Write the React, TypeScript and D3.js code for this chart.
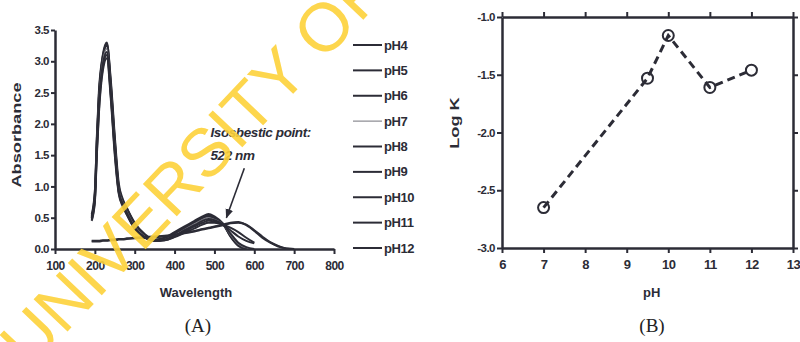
import React, { useEffect, useRef } from "react";
import * as d3 from "d3";

// Panel A: UV-vis spectra at different pH
const wavelengths = [192, 200, 205, 210, 220, 230, 240, 250, 260, 270, 280, 300, 325, 350, 375, 400, 425, 450, 470, 485, 500, 522, 540, 560, 580, 600, 620, 640, 660, 680, 700];
const pH4 = [0.52, 0.9, 1.8, 2.5, 3.1, 3.3, 2.65, 1.75, 1.0, 0.78, 0.65, 0.42, 0.24, 0.15, 0.18, 0.27, 0.36, 0.45, 0.52, 0.56, 0.52, 0.4, 0.2, 0.05, 0, null, null, null, null, null, null];
const pH5 = [0.55, 0.92, 1.75, 2.45, 3.08, 3.28, 2.7, 1.8, 1.05, 0.8, 0.66, 0.4, 0.22, 0.14, 0.17, 0.25, 0.34, 0.43, 0.5, 0.54, 0.5, 0.4, 0.21, 0.06, 0.01, null, null, null, null, null, null];
const pH6 = [0.5, 0.85, 1.7, 2.4, 3.05, 3.25, 2.6, 1.7, 0.98, 0.76, 0.62, 0.38, 0.21, 0.14, 0.16, 0.24, 0.33, 0.42, 0.49, 0.52, 0.49, 0.39, 0.22, 0.07, 0.01, null, null, null, null, null, null];
const pH7 = [0.48, 0.82, 1.65, 2.35, 3.0, 3.2, 2.55, 1.65, 0.95, 0.74, 0.6, 0.36, 0.2, 0.13, 0.15, 0.22, 0.31, 0.4, 0.47, 0.5, 0.47, 0.39, 0.23, 0.08, 0.02, null, null, null, null, null, null];
const pH8 = [0.5, 0.8, 1.6, 2.3, 2.95, 3.15, 2.5, 1.6, 0.92, 0.72, 0.58, 0.34, 0.19, 0.13, 0.15, 0.21, 0.3, 0.38, 0.45, 0.48, 0.46, 0.39, 0.25, 0.1, 0.03, 0, null, null, null, null, null];
const pH9 = [0.47, 0.78, 1.55, 2.2, 2.9, 3.1, 2.45, 1.55, 0.9, 0.7, 0.56, 0.33, 0.18, 0.13, 0.14, 0.2, 0.28, 0.36, 0.42, 0.45, 0.44, 0.39, 0.3, 0.2, 0.13, 0.09, null, null, null, null, null];
const pH10 = [0.45, 0.75, 1.5, 2.15, 2.85, 3.05, 2.4, 1.5, 0.88, 0.68, 0.55, 0.32, 0.18, 0.13, 0.14, 0.19, 0.26, 0.33, 0.39, 0.42, 0.42, 0.39, 0.34, 0.27, 0.18, 0.1, null, null, null, null, null];
const pH11 = [0.13, 0.13, 0.13, 0.13, 0.14, 0.14, 0.15, 0.15, 0.16, 0.16, 0.17, 0.18, 0.19, 0.2, 0.21, 0.23, 0.26, 0.29, 0.32, 0.34, 0.36, 0.39, 0.42, 0.43, 0.38, 0.29, 0.18, 0.1, 0.04, 0.01, 0];
const pH12 = [0.12, 0.12, 0.12, 0.12, 0.13, 0.13, 0.14, 0.14, 0.15, 0.15, 0.16, 0.17, 0.18, 0.19, 0.2, 0.22, 0.25, 0.28, 0.31, 0.33, 0.35, 0.38, 0.41, 0.42, 0.39, 0.3, 0.2, 0.11, 0.05, 0.01, 0];
const seriesNames = ["pH4", "pH5", "pH6", "pH7", "pH8", "pH9", "pH10", "pH11", "pH12"];
const seriesValues = [pH4, pH5, pH6, pH7, pH8, pH9, pH10, pH11, pH12];
const absTicks = [0, 0.5, 1, 1.5, 2, 2.5, 3, 3.5];
const wlTicks = [100, 200, 300, 400, 500, 600, 700, 800];

// Panel B: log K vs pH
const phValues = [7, 9.5, 10, 11, 12];
const logK = [-2.65, -1.53, -1.16, -1.61, -1.46];
const phTicks = [6, 7, 8, 9, 10, 11, 12, 13];
const logKTicks = [-3, -2.5, -2, -1.5, -1];

const ink = "#2c2c36";
const font = "'Liberation Sans', Arial, sans-serif";

const App = () => {
  const svgRef = useRef(null);
  const width = 800;
  const height = 342;

  useEffect(() => {
    const svg = d3.select(svgRef.current);
    svg.selectAll("*").remove();

    // ---------- Panel A ----------
    const xA = d3.scaleLinear().domain([100, 800]).range([55, 334]);
    const yA = d3.scaleLinear().domain([0, 3.5]).range([249, 30]);

    const styleAxis = (g, size) => {
      g.selectAll("path").attr("stroke", ink).attr("stroke-width", 2.5);
      g.selectAll(".tick line").attr("stroke", ink).attr("stroke-width", 2);
      g.selectAll("text")
        .attr("fill", ink)
        .style("font-family", font)
        .style("font-weight", "bold")
        .style("font-size", size + "px")
        .style("letter-spacing", "-0.5px");
    };

    const lineA = d3
      .line()
      .defined((d) => d[1] !== null)
      .x((d) => xA(d[0]))
      .y((d) => yA(d[1]))
      .curve(d3.curveMonotoneX);

    seriesValues.forEach((vals, i) => {
      svg
        .append("path")
        .datum(wavelengths.map((w, j) => [w, vals[j]]))
        .attr("fill", "none")
        .attr("stroke", seriesNames[i] === "pH7" ? "#7a7a82" : ink)
        .attr("stroke-width", seriesNames[i] === "pH7" ? 1.4 : 2)
        .attr("d", lineA);
    });

    svg
      .append("g")
      .attr("transform", `translate(0,${yA(0)})`)
      .call(
        d3.axisBottom(xA).tickValues(wlTicks).tickSize(5).tickPadding(7).tickSizeOuter(0)
          .tickFormat(d3.format("d")),
      )
      .call((g) => styleAxis(g, 12));

    svg
      .append("g")
      .attr("transform", `translate(${xA(100)},0)`)
      .call(
        d3.axisLeft(yA).tickValues(absTicks).tickSize(4).tickPadding(2).tickSizeOuter(0)
          .tickFormat((d) => d.toFixed(1)),
      )
      .call((g) => styleAxis(g, 11.5));

    svg
      .append("text")
      .attr("x", 196)
      .attr("y", 297)
      .attr("text-anchor", "middle")
      .attr("fill", ink)
      .style("font-family", font)
      .style("font-weight", "bold")
      .style("font-size", "13px")
      .text("Wavelength");

    svg
      .append("text")
      .attr("transform", `translate(21,135) rotate(-90) scale(1.4,1)`)
      .attr("text-anchor", "middle")
      .attr("fill", ink)
      .style("font-family", font)
      .style("font-weight", "bold")
      .style("font-size", "13px")
      .text("Absorbance");

    // isosbestic annotation
    svg
      .append("defs")
      .append("marker")
      .attr("id", "arrow")
      .attr("viewBox", "0 0 10 10")
      .attr("refX", 9)
      .attr("refY", 5)
      .attr("markerWidth", 6)
      .attr("markerHeight", 7)
      .attr("orient", "auto")
      .append("path")
      .attr("d", "M0,1 L10,5 L0,9 Z")
      .attr("fill", ink);

    svg
      .append("line")
      .attr("x1", xA(575))
      .attr("y1", yA(1.29))
      .attr("x2", xA(530))
      .attr("y2", yA(0.5))
      .attr("stroke", ink)
      .attr("stroke-width", 1.6)
      .attr("marker-end", "url(#arrow)");

    const note = svg
      .append("text")
      .attr("fill", ink)
      .style("font-family", font)
      .style("font-style", "italic")
      .style("font-weight", "bold")
      .style("font-size", "13.5px")
      .style("letter-spacing", "-0.4px");
    note.append("tspan").attr("x", xA(490)).attr("y", yA(1.79)).text("Isosbestic point:");
    note.append("tspan").attr("x", xA(490)).attr("y", yA(1.42)).text("522 nm");

    // legend
    const legendY = d3.scalePoint().domain(seriesNames).range([45, 248]);
    seriesNames.forEach((name) => {
      const isLight = name === "pH7";
      svg
        .append("line")
        .attr("x1", 353)
        .attr("x2", 382)
        .attr("y1", legendY(name))
        .attr("y2", legendY(name))
        .attr("stroke", isLight ? "#8a8a90" : ink)
        .attr("stroke-width", isLight ? 1.2 : 2);
      svg
        .append("text")
        .attr("x", 384)
        .attr("y", legendY(name) + 4.5)
        .attr("fill", ink)
        .style("font-family", font)
        .style("font-weight", "bold")
        .style("font-size", "13px")
        .style("letter-spacing", "-0.4px")
        .text(name);
    });

    svg
      .append("text")
      .attr("x", 198)
      .attr("y", 332)
      .attr("text-anchor", "middle")
      .attr("fill", "#222")
      .style("font-family", "'Liberation Serif', 'Times New Roman', serif")
      .style("font-size", "19px")
      .text("(A)");

    // ---------- Panel B ----------
    const xB = d3.scaleLinear().domain([6, 13]).range([502, 793]);
    const yB = d3.scaleLinear().domain([-3, -1]).range([248, 17]);

    svg
      .append("g")
      .attr("transform", `translate(0,${yB(-3)})`)
      .call(
        d3.axisBottom(xB).tickValues(phTicks).tickSize(5).tickPadding(7).tickSizeOuter(0)
          .tickFormat(d3.format("d")),
      )
      .call((g) => styleAxis(g, 13));
    svg
      .append("g")
      .attr("transform", `translate(0,${yB(-1)})`)
      .call(d3.axisTop(xB).tickValues(phTicks).tickSize(5).tickSizeOuter(0).tickFormat(() => ""))
      .call((g) => styleAxis(g, 12));
    svg
      .append("g")
      .attr("transform", `translate(${xB(6)},0)`)
      .call(
        d3.axisLeft(yB).tickValues(logKTicks).tickSize(5).tickPadding(2).tickSizeOuter(0)
          .tickFormat((d) => d.toFixed(1)),
      )
      .call((g) => styleAxis(g, 11.5));
    svg
      .append("g")
      .attr("transform", `translate(${xB(13)},0)`)
      .call(d3.axisRight(yB).tickValues(logKTicks).tickSize(5).tickSizeOuter(0).tickFormat(() => ""))
      .call((g) => styleAxis(g, 11));

    const lineB = d3
      .line()
      .x((d, i) => xB(phValues[i]))
      .y((d) => yB(d));

    svg
      .append("path")
      .datum(logK)
      .attr("fill", "none")
      .attr("stroke", ink)
      .attr("stroke-width", 3)
      .attr("stroke-dasharray", "8,5")
      .attr("d", lineB);

    svg
      .selectAll(".pt")
      .data(logK)
      .enter()
      .append("circle")
      .attr("cx", (d, i) => xB(phValues[i]))
      .attr("cy", (d) => yB(d))
      .attr("r", 5.5)
      .attr("fill", "none")
      .attr("stroke", ink)
      .attr("stroke-width", 2);

    svg
      .append("text")
      .attr("x", xB(9.6))
      .attr("y", 297)
      .attr("text-anchor", "middle")
      .attr("fill", ink)
      .style("font-family", font)
      .style("font-weight", "bold")
      .style("font-size", "13px")
      .text("pH");

    svg
      .append("text")
      .attr("transform", `translate(459,123) rotate(-90) scale(1.4,1)`)
      .attr("text-anchor", "middle")
      .attr("fill", ink)
      .style("font-family", font)
      .style("font-weight", "bold")
      .style("font-size", "13px")
      .text("Log K");

    svg
      .append("text")
      .attr("x", 652)
      .attr("y", 332)
      .attr("text-anchor", "middle")
      .attr("fill", "#222")
      .style("font-family", "'Liberation Serif', 'Times New Roman', serif")
      .style("font-size", "19px")
      .text("(B)");

    // watermark
    svg
      .append("text")
      .attr("transform", "translate(30,371) rotate(-46.5)")
      .attr("fill", "#fdd23a")
      .attr("opacity", 0.9)
      .style("font-family", font)
      .style("font-size", "68px")
      .text("UNIVERSITY OF");
  }, []);

  return (
    <svg
      ref={svgRef}
      width={width}
      height={height}
      style={{ position: "absolute", left: 0, top: 0, background: "white" }}
    ></svg>
  );
};

export default App;
